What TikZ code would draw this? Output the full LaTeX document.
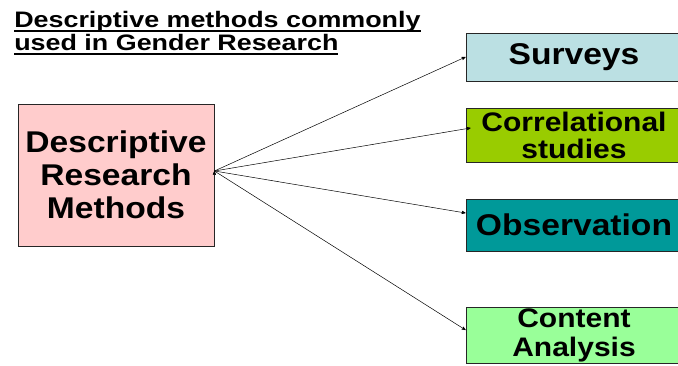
\documentclass[tikz,border=0pt]{standalone}
\usepackage{fontspec}
\usepackage{tikz}
\usetikzlibrary{positioning}
\usetikzlibrary{shapes,arrows}
\newfontfamily\widesans[FakeStretch=1.2]{Liberation Sans}
\newfontfamily\boxsans[FakeStretch=1.12]{Liberation Sans}
\newcommand{\thickul}[1]{\setbox0\hbox{#1}\rlap{\rule[-4pt]{\wd0}{1.6pt}}\box0}
\definecolor{pinkbox}{HTML}{FFCCCC}
\definecolor{bluebox}{HTML}{BBE0E3}
\definecolor{limebox}{HTML}{99CC00}
\definecolor{tealbox}{HTML}{009999}
\definecolor{mintbox}{HTML}{99FF99}

\begin{document}
\begin{tikzpicture}[->, >=stealth', semithick, x=1pt, y=1pt]
\tikzstyle{every node}=[font=\boxsans\bfseries, text=black]
\tikzstyle{box}=[draw=black!85, line width=0.8pt, inner sep=0pt, align=center, rectangle]
\tikzstyle{method}=[box, minimum width=216pt]
\useasboundingbox (0,0) rectangle (678,366);
\node[anchor=north west, align=left, inner sep=0pt, font=\widesans\bfseries\fontsize{22.4}{23}\selectfont]
  (title) at (14,355) {\thickul{Descriptive methods commonly}\\\thickul{used in Gender Research}};
\node[box, fill=pinkbox, minimum width=196pt, minimum height=142pt, font=\boxsans\bfseries\fontsize{30}{33}\selectfont]
  (drm) at (116,191) {Descriptive\\Research\\Methods};
\node[method, fill=bluebox, minimum height=48pt, font=\boxsans\bfseries\fontsize{30}{33}\selectfont]
  (surv) at (574,309) {Surveys};
\node[method, fill=limebox, minimum height=54pt, font=\boxsans\bfseries\fontsize{26.8}{27}\selectfont]
  (corr) at (574,231) {Correlational\\studies};
\node[method, fill=tealbox, minimum height=52pt, font=\boxsans\bfseries\fontsize{30}{33}\selectfont]
  (obs) at (574,141) {Observation};
\node[method, fill=mintbox, minimum height=56pt, font=\boxsans\bfseries\fontsize{26.8}{29}\selectfont]
  (cont) at (574,31) {Content\\Analysis};
\coordinate (hub) at ([yshift=4pt]drm.east);
\path[draw=black, line width=0.5pt]
(hub) edge (surv.west)
(hub) edge ([shift={(5pt,7pt)}]corr.west)
(hub) edge ([yshift=12pt]obs.west)
(hub) edge ([yshift=5pt]cont.west)
;
\end{tikzpicture}
\end{document}
